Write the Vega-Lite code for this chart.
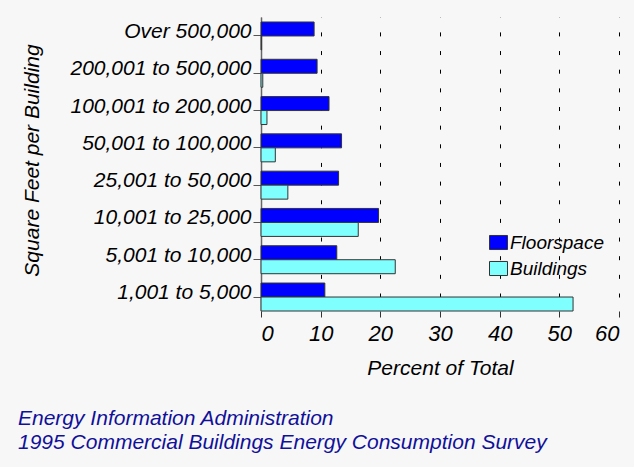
{
  "$schema": "https://vega.github.io/schema/vega-lite/v6.json",
  "width": 358,
  "height": 294,
  "autosize": {"type": "none"},
  "padding": {"left": 261, "top": 17, "right": 15, "bottom": 156},
  "background": "#f7f7f7",
  "config": {
    "font": "Liberation Sans",
    "view": {"stroke": null}
  },
  "title": {
    "text": ["Energy Information Administration", "1995 Commercial Buildings Energy Consumption Survey"],
    "orient": "bottom",
    "anchor": "start",
    "frame": "group",
    "dx": -243,
    "offset": 30,
    "font": "Liberation Sans",
    "fontSize": 21,
    "fontStyle": "italic",
    "fontWeight": "normal",
    "color": "#10109a",
    "lineHeight": 24,
    "baseline": "top",
    "limit": 600
  },
  "data": {
    "values": [
      {"size": "Over 500,000", "series": "Floorspace", "pct": 8.9},
      {"size": "Over 500,000", "series": "Buildings", "pct": 0.1},
      {"size": "200,001 to 500,000", "series": "Floorspace", "pct": 9.4},
      {"size": "200,001 to 500,000", "series": "Buildings", "pct": 0.3},
      {"size": "100,001 to 200,000", "series": "Floorspace", "pct": 11.4},
      {"size": "100,001 to 200,000", "series": "Buildings", "pct": 1.0},
      {"size": "50,001 to 100,000", "series": "Floorspace", "pct": 13.5},
      {"size": "50,001 to 100,000", "series": "Buildings", "pct": 2.4},
      {"size": "25,001 to 50,000", "series": "Floorspace", "pct": 13.0},
      {"size": "25,001 to 50,000", "series": "Buildings", "pct": 4.5},
      {"size": "10,001 to 25,000", "series": "Floorspace", "pct": 19.7},
      {"size": "10,001 to 25,000", "series": "Buildings", "pct": 16.3},
      {"size": "5,001 to 10,000", "series": "Floorspace", "pct": 12.7},
      {"size": "5,001 to 10,000", "series": "Buildings", "pct": 22.5},
      {"size": "1,001 to 5,000", "series": "Floorspace", "pct": 10.7},
      {"size": "1,001 to 5,000", "series": "Buildings", "pct": 52.3}
    ]
  },
  "mark": {"type": "bar", "stroke": "#333333", "strokeWidth": 1},
  "encoding": {
    "y": {
      "field": "size",
      "type": "nominal",
      "sort": ["Over 500,000", "200,001 to 500,000", "100,001 to 200,000", "50,001 to 100,000", "25,001 to 50,000", "10,001 to 25,000", "5,001 to 10,000", "1,001 to 5,000"],
      "scale": {"paddingInner": 0.25, "paddingOuter": 0.067, "align": 1},
      "axis": {
        "title": "Square Feet per Building",
        "titleFont": "Liberation Sans",
        "titleFontSize": 21,
        "titleFontStyle": "italic",
        "titleFontWeight": "normal",
        "titleColor": "#000000",
        "titleAngle": -90,
        "titleAlign": "center",
        "titleBaseline": "middle",
        "titleX": -229,
        "titleY": 143,
        "labelFontSize": 21,
        "labelFontStyle": "italic",
        "labelColor": "#000000",
        "labelLimit": 260,
        "labelPadding": 2,
        "labelOffset": -4,
        "tickSize": 8,
        "tickColor": "#555555",
        "domainColor": "#666666",
        "domainWidth": 1.5,
        "grid": false
      }
    },
    "yOffset": {
      "field": "series",
      "type": "nominal",
      "sort": ["Floorspace", "Buildings"],
      "scale": {"paddingInner": 0, "paddingOuter": 0}
    },
    "x": {
      "field": "pct",
      "type": "quantitative",
      "scale": {"domain": [0, 60], "nice": false},
      "axis": {
        "values": [0, 10, 20, 30, 40, 50, 60],
        "title": "Percent of Total",
        "titleFont": "Liberation Sans",
        "titleFontSize": 21,
        "titleFontStyle": "italic",
        "titleFontWeight": "normal",
        "titleColor": "#000000",
        "titleBaseline": "middle",
        "titleY": 57,
        "labelFontSize": 22,
        "labelFontStyle": "italic",
        "labelColor": "#000000",
        "labelPadding": 6,
        "tickSize": 6,
        "tickColor": "#333333",
        "domain": false,
        "grid": true,
        "gridColor": "#000000",
        "gridDash": [4, 14.65],
        "gridDashOffset": 4.65,
        "gridWidth": 1
      }
    },
    "color": {
      "field": "series",
      "type": "nominal",
      "sort": ["Floorspace", "Buildings"],
      "scale": {"domain": ["Floorspace", "Buildings"], "range": ["#0000ff", "#80ffff"]},
      "legend": {
        "title": null,
        "orient": "none",
        "legendX": 228,
        "legendY": 216,
        "symbolType": "M-1,-0.78H1V0.78H-1Z",
        "symbolSize": 324,
        "symbolStrokeColor": "#333333",
        "symbolStrokeWidth": 1,
        "labelFontSize": 19,
        "labelFontStyle": "italic",
        "labelColor": "#000000",
        "labelOffset": 2,
        "rowPadding": 6
      }
    }
  }
}
